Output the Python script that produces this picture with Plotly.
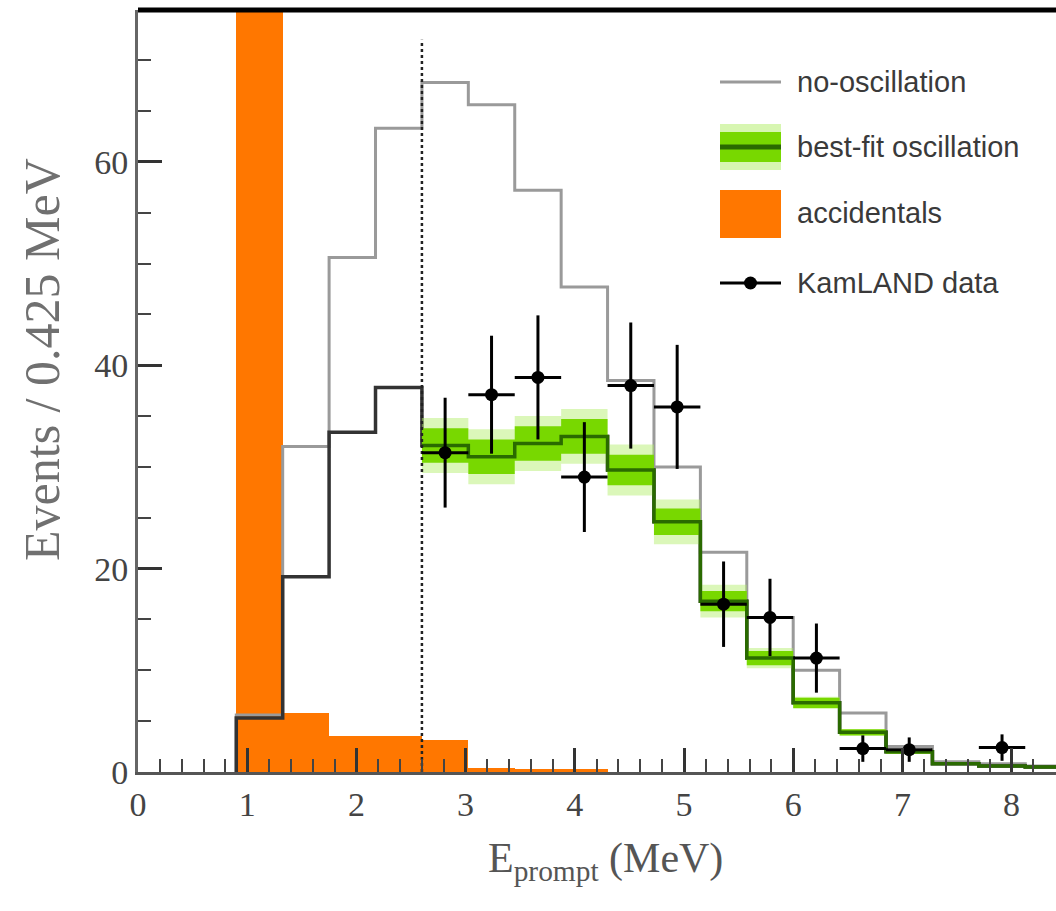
import plotly.graph_objects as go

# ---------------- data ----------------
bin_edges = [0.9, 1.325, 1.75, 2.175, 2.6, 3.025, 3.45, 3.875, 4.3, 4.725,
             5.15, 5.575, 6.0, 6.425, 6.85, 7.275, 7.7, 8.125, 8.55]
bin_centers = [1.1125, 1.5375, 1.9625, 2.3875, 2.8125, 3.2375, 3.6625, 4.0875,
               4.5125, 4.9375, 5.3625, 5.7875, 6.2125, 6.6375, 7.0625, 7.4875,
               7.9125, 8.3375]
bin_width = 0.425

no_oscillation = [5.6, 32.0, 50.6, 63.3, 67.8, 65.6, 57.2, 47.7, 38.5, 30.0,
                  21.6, 15.2, 10.0, 5.8, 2.5, 1.0, 0.8, 0.6]
best_fit = [5.3, 19.2, 33.4, 37.8, 32.1, 31.0, 32.3, 33.0, 29.7, 24.6,
            16.8, 11.2, 6.8, 3.9, 2.0, 0.8, 0.6, 0.5]
accidentals = [200.0, 5.8, 3.5, 3.5, 3.1, 0.4, 0.3, 0.3, 0.0, 0.0,
               0.0, 0.0, 0.0, 0.0, 0.0, 0.0, 0.0, 0.0]

threshold = 2.6                    # analysis threshold (dashed line)
threshold_top = 72.0
band_first_bin = 4                 # band drawn from the 2.6 MeV bin onward
band_halfwidth = [1.7, 1.7, 1.7, 1.7, 1.5, 1.3, 1.0, 0.7, 0.5, 0.3, 0.2, 0.1, 0.1, 0.1]
band_glow = [1.0, 1.0, 1.0, 1.0, 1.0, 0.9, 0.6, 0.3, 0.1, 0.0, 0.0, 0.0, 0.0, 0.0]

data_E = [2.8125, 3.2375, 3.6625, 4.0875, 4.5125, 4.9375, 5.3625, 5.7875,
          6.2125, 6.6375, 7.0625, 7.9125]
data_N = [31.4, 37.1, 38.8, 29.0, 38.0, 35.9, 16.5, 15.2, 11.2, 2.3, 2.2, 2.4]
data_err = [5.4, 5.8, 6.1, 5.4, 6.2, 6.1, 4.2, 3.8, 3.4, 1.3, 1.2, 1.3]
data_xerr = 0.2125

x_ticks = [0, 1, 2, 3, 4, 5, 6, 7, 8]
y_ticks = [0, 20, 40, 60]

legend_labels = ["no-oscillation", "best-fit oscillation", "accidentals", "KamLAND data"]

# ---------------- geometry ----------------
W, H = 1056, 911
L, R, T, B = 138, 1056, 10, 772


def px(x):
    return (x - L) / (R - L)


def py(y):
    return (B - y) / (B - T)


def step(values, edges, start_zero=False):
    xs = list(edges)
    ys = list(values) + [values[-1]]
    if start_zero:
        xs = [edges[0]] + xs
        ys = [0] + ys
    return xs, ys


fig = go.Figure()

# accidentals (orange bars)
fig.add_trace(go.Bar(x=bin_centers, y=accidentals, width=bin_width,
                     marker=dict(color="#FF7700", line=dict(width=0)),
                     showlegend=False, hoverinfo="skip"))

# no-oscillation (gray step line)
xs, ys = step(no_oscillation, bin_edges, start_zero=True)
fig.add_trace(go.Scatter(x=xs, y=ys, mode="lines", line_shape="hv",
                         line=dict(color="#9a9a9a", width=3),
                         showlegend=False, hoverinfo="skip"))

# best-fit oscillation (dark step line)
xs, ys = step(best_fit, bin_edges, start_zero=True)
fig.add_trace(go.Scatter(x=xs, y=ys, mode="lines", line_shape="hv",
                         line=dict(color="#333333", width=3.5),
                         showlegend=False, hoverinfo="skip"))

# systematic band above threshold
bf_band = best_fit[band_first_bin:]
edges_band = bin_edges[band_first_bin:]
for use_glow, color in [(True, "rgba(175,238,100,0.45)"), (False, "#78D800")]:
    ext = [h + (g if use_glow else 0.0) for h, g in zip(band_halfwidth, band_glow)]
    lo = [v - e for v, e in zip(bf_band, ext)]
    hi = [v + e for v, e in zip(bf_band, ext)]
    xl, yl = step(lo, edges_band)
    xh, yh = step(hi, edges_band)
    fig.add_trace(go.Scatter(x=xl, y=yl, mode="lines", line_shape="hv",
                             line=dict(width=0, color=color),
                             showlegend=False, hoverinfo="skip"))
    fig.add_trace(go.Scatter(x=xh, y=yh, mode="lines", line_shape="hv",
                             line=dict(width=0, color=color), fill="tonexty",
                             fillcolor=color, showlegend=False, hoverinfo="skip"))

xs, ys = step(bf_band, edges_band)
fig.add_trace(go.Scatter(x=xs, y=ys, mode="lines", line_shape="hv",
                         line=dict(color="#2a6a00", width=3.5),
                         showlegend=False, hoverinfo="skip"))

# threshold dashed line
fig.add_trace(go.Scatter(x=[threshold, threshold], y=[0, threshold_top], mode="lines",
                         line=dict(color="#222222", width=2.5, dash="dot"),
                         showlegend=False, hoverinfo="skip"))

# KamLAND data
fig.add_trace(go.Scatter(x=data_E, y=data_N, mode="markers",
                         marker=dict(color="black", size=13),
                         error_y=dict(type="data", array=data_err, visible=True,
                                      color="black", thickness=3, width=0),
                         error_x=dict(type="constant", value=data_xerr, visible=True,
                                      color="black", thickness=3, width=0),
                         showlegend=False, hoverinfo="skip"))

# ---------------- manual legend ----------------
shapes = []
annotations = []
lx0, lx1, tx = 720, 781, 795
leg_font = dict(family="Liberation Sans, Arial, sans-serif", size=29, color="#3a3a3a")
rows_y = [82, 147, 213, 283]

shapes.append(dict(type="line", xref="paper", yref="paper", x0=px(lx0), x1=px(lx1),
                   y0=py(rows_y[0]), y1=py(rows_y[0]), line=dict(color="#9a9a9a", width=3)))
shapes.append(dict(type="rect", xref="paper", yref="paper", x0=px(lx0), x1=px(lx1),
                   y0=py(170), y1=py(124), fillcolor="rgba(175,238,100,0.5)", line=dict(width=0)))
shapes.append(dict(type="rect", xref="paper", yref="paper", x0=px(lx0), x1=px(lx1),
                   y0=py(162), y1=py(132), fillcolor="#78D800", line=dict(width=0)))
shapes.append(dict(type="line", xref="paper", yref="paper", x0=px(lx0), x1=px(lx1),
                   y0=py(rows_y[1]), y1=py(rows_y[1]), line=dict(color="#2a6a00", width=5)))
shapes.append(dict(type="rect", xref="paper", yref="paper", x0=px(lx0), x1=px(lx1),
                   y0=py(238), y1=py(190), fillcolor="#FF7700", line=dict(width=0)))
shapes.append(dict(type="line", xref="paper", yref="paper", x0=px(lx0), x1=px(lx1),
                   y0=py(rows_y[3]), y1=py(rows_y[3]), line=dict(color="black", width=3)))
shapes.append(dict(type="circle", xref="paper", yref="paper",
                   x0=px(750.5 - 6.5), x1=px(750.5 + 6.5),
                   y0=py(rows_y[3] + 6.5), y1=py(rows_y[3] - 6.5),
                   fillcolor="black", line=dict(width=0)))

for lab, yy in zip(legend_labels, rows_y):
    annotations.append(dict(text=lab, xref="paper", yref="paper", x=px(tx), y=py(yy),
                            xanchor="left", yanchor="middle", showarrow=False, font=leg_font))

# top black frame line
shapes.append(dict(type="line", xref="paper", yref="paper", x0=0, x1=1, y0=1, y1=1,
                   line=dict(color="black", width=5)))

# axis titles
annotations.append(dict(text="Events / 0.425 MeV", xref="paper", yref="paper",
                        x=px(42), y=py(360), textangle=-90, showarrow=False,
                        xanchor="center", yanchor="middle",
                        font=dict(family="Liberation Serif, Times New Roman, serif",
                                  size=50, color="#707070")))
annotations.append(dict(text="E<sub>prompt</sub> (MeV)", xref="paper", yref="paper",
                        x=px(605), y=py(833), showarrow=False,
                        xanchor="center", yanchor="top",
                        font=dict(family="Liberation Serif, Times New Roman, serif",
                                  size=42, color="#555555")))

tick_font = dict(family="Liberation Serif, Times New Roman, serif", size=34, color="#444444")

fig.update_layout(
    width=W, height=H,
    margin=dict(l=L, r=W - R, t=T, b=H - B),
    paper_bgcolor="white", plot_bgcolor="white",
    barmode="overlay", bargap=0,
    showlegend=False,
    shapes=shapes, annotations=annotations,
    xaxis=dict(range=[0, (R - L) / 109.2], tickvals=x_ticks, ticks="inside",
               ticklen=24, tickwidth=3, tickcolor="#333333",
               minor=dict(dtick=0.2, tick0=0, ticks="inside", ticklen=13,
                          tickwidth=2, tickcolor="#444444"),
               showline=True, linecolor="#555555", linewidth=3,
               showgrid=False, zeroline=False, tickfont=tick_font,
               layer="above traces"),
    yaxis=dict(range=[0, (B - T) / 10.17], tickvals=y_ticks, ticks="inside",
               ticklen=24, tickwidth=3, tickcolor="#333333",
               minor=dict(dtick=5, tick0=0, ticks="inside", ticklen=13,
                          tickwidth=2, tickcolor="#444444"),
               showline=True, linecolor="#666666", linewidth=3,
               showgrid=False, zeroline=False, tickfont=tick_font,
               layer="above traces"),
)

fig.write_html("out.html")
